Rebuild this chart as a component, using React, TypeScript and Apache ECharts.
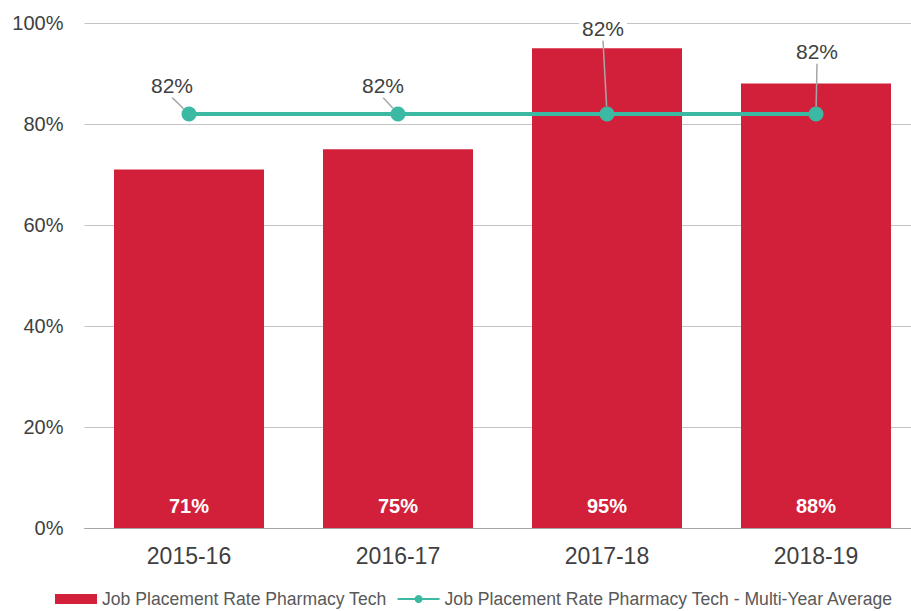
import React, { useEffect, useRef } from "react";
import * as echarts from "echarts";

const categories = ["2015-16", "2016-17", "2017-18", "2018-19"];
const placementRates = [71, 75, 95, 88];
const multiYearAverage = [82, 82, 82, 82];
const yTicks = { min: 0, max: 100, interval: 20 };
const avgLabelOffsets = [
  { dx: -17, dy: -28 },
  { dx: -15, dy: -28 },
  { dx: -4, dy: -85 },
  { dx: 1, dy: -62 },
];

const FONT = "'Liberation Sans', Arial, sans-serif";

export default function App() {
  const ref = useRef<HTMLDivElement>(null);
  useEffect(() => {
    document.body.style.margin = "0";
    const chart = echarts.init(ref.current!, null, { renderer: "svg" });
    chart.setOption({
      animation: false,
      textStyle: { fontFamily: FONT },
      grid: {
        left: 84.5,
        right: -9.5,
        top: 23,
        bottom: 83,
        containLabel: false,
        outerBoundsMode: "none",
      },
      legend: {
        left: 50,
        top: 585,
        itemWidth: 42,
        itemHeight: 10,
        itemGap: 10,
        textStyle: { color: "#595959", fontSize: 17.6, fontFamily: FONT },
        data: [
          { name: "Job Placement Rate Pharmacy Tech", icon: "rect" },
          { name: "Job Placement Rate Pharmacy Tech - Multi-Year Average" },
        ],
      },
      xAxis: {
        type: "category",
        data: categories,
        axisTick: { show: false },
        axisLine: { lineStyle: { color: "#a6a6a6", width: 1 } },
        axisLabel: { color: "#404040", fontSize: 23, margin: 16, fontFamily: FONT },
      },
      yAxis: {
        type: "value",
        min: yTicks.min,
        max: yTicks.max,
        interval: yTicks.interval,
        axisLine: { show: false },
        axisTick: { show: false },
        splitLine: { lineStyle: { color: "#c4c4c4", width: 1 } },
        axisLabel: {
          formatter: "{value}%",
          color: "#404040",
          fontSize: 20,
          margin: 21,
          fontFamily: FONT,
        },
      },
      series: [
        {
          name: "Job Placement Rate Pharmacy Tech",
          type: "bar",
          data: placementRates,
          barWidth: 150,
          itemStyle: { color: "#D2203A" },
          label: {
            show: true,
            position: "insideBottom",
            distance: 12,
            formatter: "{c}%",
            color: "#ffffff",
            fontWeight: "bold",
            fontSize: 20,
            fontFamily: FONT,
          },
        },
        {
          name: "Job Placement Rate Pharmacy Tech - Multi-Year Average",
          type: "line",
          data: multiYearAverage,
          symbol: "circle",
          symbolSize: 15,
          z: 5,
          lineStyle: { color: "#3CB9A2", width: 4 },
          itemStyle: { color: "#3CB9A2" },
          label: {
            show: true,
            position: "inside",
            formatter: "{c}%",
            color: "#404040",
            fontSize: 21,
            fontFamily: FONT,
            backgroundColor: "#ffffff",
            padding: [1, 3],
          },
          labelLine: {
            show: true,
            lineStyle: { color: "#a6a6a6", width: 1.5 },
          },
          labelLayout: (params: any) => avgLabelOffsets[params.dataIndex],
        },
      ],
    });
    return () => chart.dispose();
  }, []);
  return (
    <div
      ref={ref}
      style={{ position: "absolute", left: 0, top: 0, width: 911, height: 611 }}
    />
  );
}
